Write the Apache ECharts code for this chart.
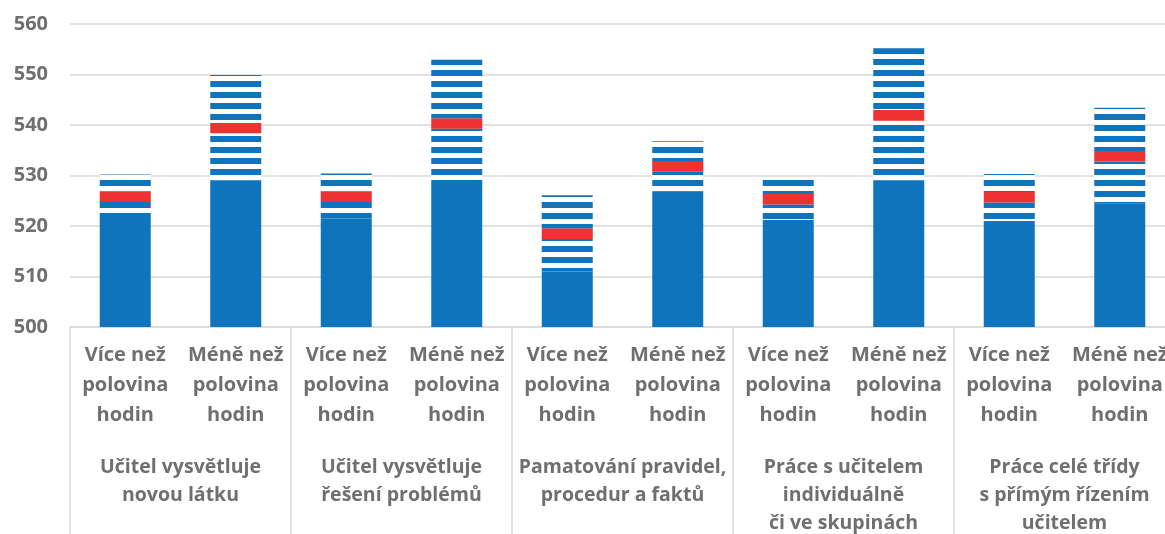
<!DOCTYPE html>
<html>
<head>
<meta charset="utf-8">
<script src="https://cdn.jsdelivr.net/npm/echarts@6/dist/echarts.min.js"></script>
<style>
  html, body { margin: 0; padding: 0; background: #fff; }
  #chart { width: 1165px; height: 534px; }
</style>
</head>
<body>
<div id="chart"></div>
<script>
// podkategorie (osa x, první úroveň)
const subLabels = [
  'Více než\npolovina\nhodin', 'Méně než\npolovina\nhodin',
  'Více než\npolovina\nhodin', 'Méně než\npolovina\nhodin',
  'Více než\npolovina\nhodin', 'Méně než\npolovina\nhodin',
  'Více než\npolovina\nhodin', 'Méně než\npolovina\nhodin',
  'Více než\npolovina\nhodin', 'Méně než\npolovina\nhodin'
]
// skupiny (osa x, druhá úroveň)
const groupLabels = [
  'Učitel vysvětluje\nnovou látku',
  'Učitel vysvětluje\nřešení problémů',
  'Pamatování pravidel,\nprocedur a faktů',
  'Práce s učitelem\nindividuálně\nči ve skupinách',
  'Práce celé třídy\ns přímým řízením\nučitelem'
]
// dolní mez intervalu, průměr, horní mez intervalu
const lowerCI = [521.6, 529.0, 521.5, 527.9, 511.0, 526.9, 521.2, 529.0, 521.0, 524.5]
const means   = [525.8, 539.4, 525.8, 540.3, 518.5, 531.8, 525.3, 541.9, 525.7, 533.8]
const upperCI = [530.2, 549.9, 530.4, 552.9, 526.1, 536.8, 529.3, 555.2, 530.3, 543.4]
// osa y
const yMin = 500
const yMax = 560
const yStep = 10

const blue = '#0f74bb'
const red = '#ee3131'
const gray = '#6f6f6f'
const lineGray = '#d9d9d9'
const markHalf = 1.05 // polovina výšky červené značky průměru
const font = '"Open Sans", "Noto Sans", sans-serif'

// vodorovné šrafování (modrá / bílá)
const stripe = document.createElement('canvas')
stripe.width = 4
stripe.height = 11
const sctx = stripe.getContext('2d')
sctx.fillStyle = '#fff'
sctx.fillRect(0, 0, 4, 11)
sctx.fillStyle = blue
sctx.fillRect(0, 4, 4, 6)
const stripeFill = { image: stripe, repeat: 'repeat' }

const r2 = v => Math.round(v * 100) / 100
const stripeLow = means.map((m, i) => r2(m - markHalf - lowerCI[i]))
const markData = means.map(() => r2(markHalf * 2))
const stripeHigh = means.map((m, i) => r2(upperCI[i] - m - markHalf))

const barCommon = { type: 'bar', stack: 'ci', barWidth: 51, silent: true, animation: false }

const myChart = echarts.init(document.getElementById('chart'))
const option = {
  animation: false,
  grid: { left: 70, right: -10, top: 24, bottom: 207, containLabel: false, outerBoundsMode: 'none' },
  xAxis: [
    {
      type: 'category',
      data: subLabels,
      axisLine: { show: true, lineStyle: { color: lineGray, width: 1.5 } },
      axisTick: { show: false },
      axisLabel: {
        interval: 0, margin: 13, lineHeight: 30,
        color: gray, fontSize: 20, fontWeight: 'bold', fontFamily: font
      }
    },
    {
      type: 'category',
      data: groupLabels,
      position: 'bottom',
      offset: 0,
      axisLine: { show: false },
      axisTick: { show: true, interval: 0, length: 210, lineStyle: { color: lineGray, width: 1.5 } },
      axisLabel: {
        interval: 0, margin: 126, lineHeight: 28,
        color: gray, fontSize: 19.5, fontWeight: 'bold', fontFamily: font
      }
    }
  ],
  yAxis: {
    type: 'value',
    min: yMin,
    max: yMax,
    interval: yStep,
    axisLine: { show: false },
    axisTick: { show: false },
    splitLine: { lineStyle: { color: lineGray, width: 1.5 } },
    axisLabel: { margin: 22, color: gray, fontSize: 20, fontWeight: 'bold', fontFamily: font }
  },
  series: [
    Object.assign({ name: 'base', data: lowerCI, itemStyle: { color: blue } }, barCommon),
    Object.assign({ name: 'ciLow', data: stripeLow, itemStyle: { color: stripeFill } }, barCommon),
    Object.assign({ name: 'mean', data: markData, itemStyle: { color: red } }, barCommon),
    Object.assign({ name: 'ciHigh', data: stripeHigh, itemStyle: { color: stripeFill } }, barCommon)
  ]
}
myChart.setOption(option)
</script>
</body>
</html>
